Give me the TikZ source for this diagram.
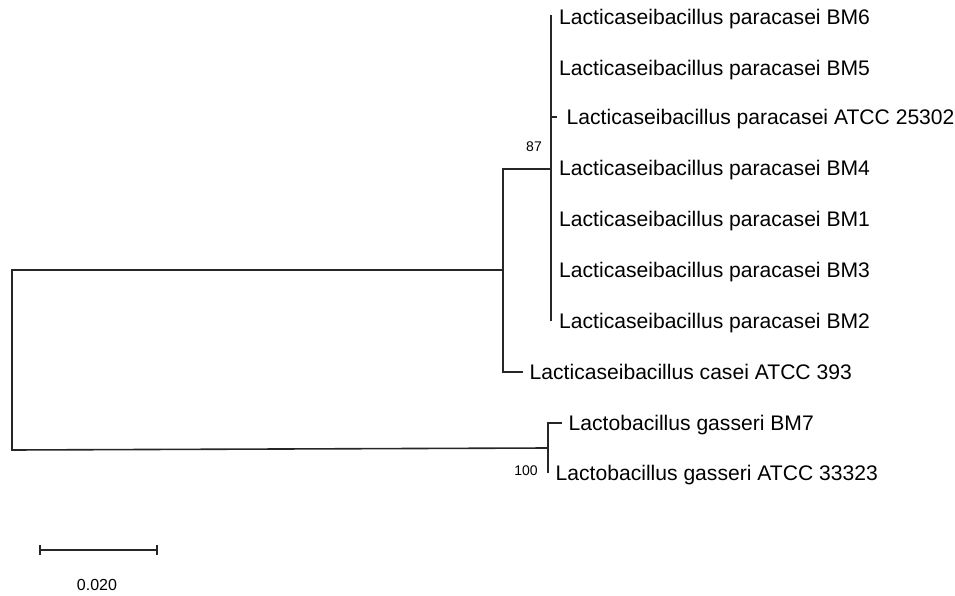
\documentclass[tikz,border=0pt]{standalone}
\usepackage{fontspec}
\setmainfont{Liberation Sans}
\begin{document}
\begin{tikzpicture}[x=1pt,y=-1pt,
  br/.style={draw=black!85,line width=1.6pt},
  leaf/.style={anchor=base west,inner sep=0pt,font=\fontsize{21.1}{21}\selectfont},
  boot/.style={inner sep=0pt,font=\fontsize{14}{14}\selectfont},
  scl/.style={inner sep=0pt,font=\fontsize{16}{16}\selectfont}]
\useasboundingbox (0,0) rectangle (955,596);
% internal coordinates
\coordinate (r1) at (12,270);
\coordinate (r2) at (12,450);
\coordinate (A) at (503,270);
\coordinate (B) at (551,169);
\coordinate (G) at (548,448);
\coordinate (t1) at (551,15);
\coordinate (t3b) at (551,117);
\coordinate (t3) at (557,117);
\coordinate (t7) at (551,321);
\coordinate (cas) at (523,372);
\coordinate (g1) at (548,423);
\coordinate (g1e) at (562,423);
\coordinate (g2) at (548,473);
% branches
\draw[br] (A) -- (r1) -- (r2) -- (G);
\draw[br] (B) -| (A) |- (cas);
\draw[br] (t1) -- (t7);
\draw[br] (t3b) -- (t3);
\draw[br] (g1e) -- (g1) -- (g2);
% labels
\node[leaf] (l1) at (559,24.5) {Lacticaseibacillus paracasei BM6};
\node[leaf] (l2) at (559,75.5) {Lacticaseibacillus paracasei BM5};
\node[leaf] (l3) at (566.5,125) {Lacticaseibacillus paracasei ATCC 25302};
\node[leaf] (l4) at (559,176) {Lacticaseibacillus paracasei BM4};
\node[leaf] (l5) at (559,226) {Lacticaseibacillus paracasei BM1};
\node[leaf] (l6) at (559,277.5) {Lacticaseibacillus paracasei BM3};
\node[leaf] (l7) at (559,328) {Lacticaseibacillus paracasei BM2};
\node[leaf] (l8) at (529.5,379.5) {Lacticaseibacillus casei ATCC 393};
\node[leaf] (l9) at (568.5,430.5) {Lactobacillus gasseri BM7};
\node[leaf] (l10) at (555.5,480) {Lactobacillus gasseri ATCC 33323};
\node[boot] (b87) at (534,147) {87};
\node[boot] (b100) at (526,471) {100};
% scale bar
\coordinate (s1) at (40,550);
\coordinate (s2) at (157,550);
\draw[br,line width=1.3pt] (s1) -- (s2);
\draw[br,line width=1.3pt] ([yshift=-5]s1) -- ([yshift=5]s1);
\draw[br,line width=1.3pt] ([yshift=-5]s2) -- ([yshift=5]s2);
\node[scl] (sl) at (97,585) {0.020};
\end{tikzpicture}
\end{document}
